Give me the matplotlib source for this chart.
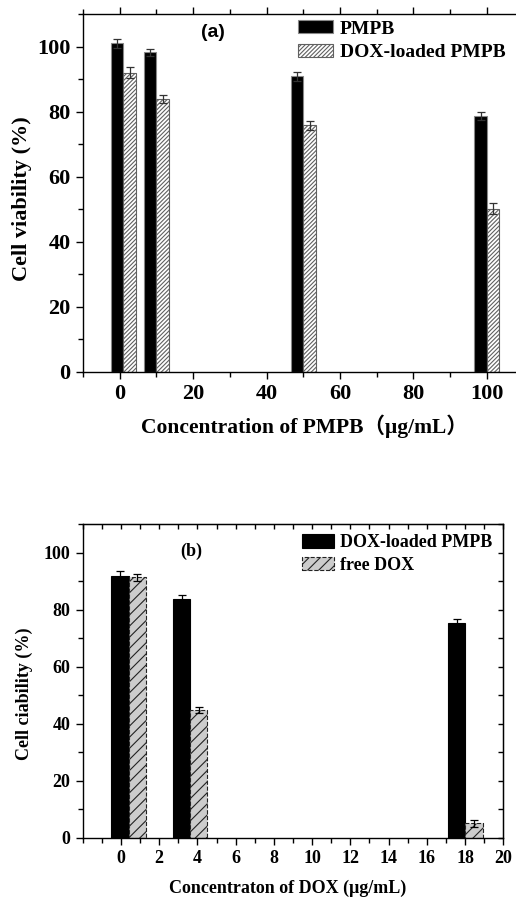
import numpy as np
import matplotlib.pyplot as plt
from matplotlib.ticker import MultipleLocator

# panel (a): PMPB vs DOX-loaded PMPB
conc_a = [1, 10, 50, 100]
pmpb = [101, 98.2, 90.8, 78.7]
pmpb_err = [1.4, 1.0, 1.4, 1.3]
dox_pmpb = [92.0, 83.8, 75.8, 50.2]
dox_pmpb_err = [1.8, 1.2, 1.4, 1.6]
xticks_a = [0, 20, 40, 60, 80, 100]

# panel (b): DOX-loaded PMPB vs free DOX
loaded_x = [-0.05, 3.17, 17.56]
free_x = [0.85, 4.07, 18.47]
loaded = [91.8, 83.8, 75.4]
loaded_err = [1.9, 1.3, 1.4]
free_dox = [91.4, 44.9, 5.1]
free_err = [1.3, 1.0, 1.2]
xticks_b = list(range(0, 21, 2))
yticks = [0, 20, 40, 60, 80, 100]

serif = ['Liberation Serif', 'DejaVu Serif']
plt.rcParams['font.family'] = serif
plt.rcParams['font.weight'] = 'bold'
plt.rcParams['axes.labelweight'] = 'bold'
plt.rcParams['hatch.linewidth'] = 0.8

fig = plt.figure(figsize=(5.16, 8.97), dpi=100)

# ---------- (a) ----------
ax1 = fig.add_axes([0.161, 0.5853, 0.8535, 0.3991])
w = 3.4
ax1.bar(conc_a, pmpb, width=-w, align='edge', color='black',
        edgecolor='#888888', linewidth=0.8, label='PMPB')
ax1.bar(conc_a, dox_pmpb, width=w, align='edge', color='white',
        edgecolor='#606060', hatch='////////', linewidth=0.8,
        label='DOX-loaded PMPB')
ax1.errorbar(np.array(conc_a) - w / 2, pmpb, yerr=pmpb_err, fmt='none',
             ecolor='#333333', elinewidth=0.9, capsize=2.8, capthick=0.9)
ax1.errorbar(np.array(conc_a) + w / 2, dox_pmpb, yerr=dox_pmpb_err, fmt='none',
             ecolor='#333333', elinewidth=0.9, capsize=2.8, capthick=0.9)

ax1.set_xlim(-10, 110)
ax1.set_ylim(0, 110)
ax1.set_xticks(xticks_a)
ax1.set_yticks(yticks)
ax1.xaxis.set_minor_locator(MultipleLocator(10))
ax1.yaxis.set_minor_locator(MultipleLocator(10))
ax1.tick_params(which='both', direction='out', top=True, width=1)
ax1.tick_params(which='major', length=5, labelsize=16, pad=4)
ax1.tick_params(which='minor', length=3.5)
ax1.spines['right'].set_visible(False)
for s in ax1.spines.values():
    s.set_linewidth(1)

ax1.set_ylabel('Cell viability (%)', fontsize=16)
ax1.yaxis.set_label_coords(-0.116, 0.485)
ax1.set_xlabel('Concentration of PMPB（μg/mL）', fontsize=15.5,
               family=['Liberation Serif', 'Noto Sans CJK SC'])
ax1.xaxis.set_label_coords(0.502, -0.118)

ax1.text(25.5, 104.2, '(a)', family='Liberation Sans', fontsize=14,
         fontweight='bold', ha='center', va='center')
ax1.legend(loc='upper left', bbox_to_anchor=(0.488, 0.982), frameon=False,
           fontsize=14, borderpad=0, borderaxespad=0, handlelength=1.8,
           handleheight=0.65, handletextpad=0.35, labelspacing=0.3)

# ---------- (b) ----------
ax2 = fig.add_axes([0.1603, 0.0661, 0.815, 0.3494])
wb = 0.9
ax2.bar(loaded_x, loaded, width=wb, color='black', edgecolor='black',
        linewidth=0.8, label='DOX-loaded PMPB')
ax2.bar(free_x, free_dox, width=wb, color='#cccccc', edgecolor='#222222',
        hatch='///', linewidth=0.8, linestyle='--', label='free DOX')
ax2.errorbar(loaded_x, loaded, yerr=loaded_err, fmt='none', ecolor='black',
             elinewidth=0.9, capsize=2.8, capthick=0.9)
ax2.errorbar(free_x, free_dox, yerr=free_err, fmt='none', ecolor='black',
             elinewidth=0.9, capsize=2.8, capthick=0.9)

ax2.set_xlim(-2, 20)
ax2.set_ylim(0, 110)
ax2.set_xticks(xticks_b)
ax2.set_yticks(yticks)
ax2.xaxis.set_minor_locator(MultipleLocator(1))
ax2.yaxis.set_minor_locator(MultipleLocator(10))
ax2.tick_params(which='both', direction='out', width=1)
ax2.tick_params(which='major', length=5, labelsize=13, pad=4)
ax2.tick_params(which='minor', length=3.5)
for s in ax2.spines.values():
    s.set_linewidth(1)

top2 = ax2.secondary_xaxis('top')
top2.set_xticks(np.arange(-2, 21, 1))
top2.tick_params(direction='in', length=3.5, width=1, labeltop=False)
right2 = ax2.secondary_yaxis('right')
right2.set_yticks(np.arange(0, 111, 10))
right2.tick_params(direction='in', length=3.5, width=1, labelright=False)

ax2.set_ylabel('Cell ciability (%)', fontsize=13)
ax2.yaxis.set_label_coords(-0.118, 0.46)
ax2.set_xlabel('Concentraton of DOX (μg/mL)', fontsize=13)
ax2.xaxis.set_label_coords(0.488, -0.133)

ax2.text(3.67, 100.6, '(b)', fontsize=13, fontweight='bold',
         ha='center', va='center')
ax2.legend(loc='upper left', bbox_to_anchor=(0.521, 0.968), frameon=False,
           fontsize=13, borderpad=0, borderaxespad=0, handlelength=1.8,
           handleheight=0.75, handletextpad=0.3, labelspacing=0.3)

fig.savefig('out.png', dpi=100)
